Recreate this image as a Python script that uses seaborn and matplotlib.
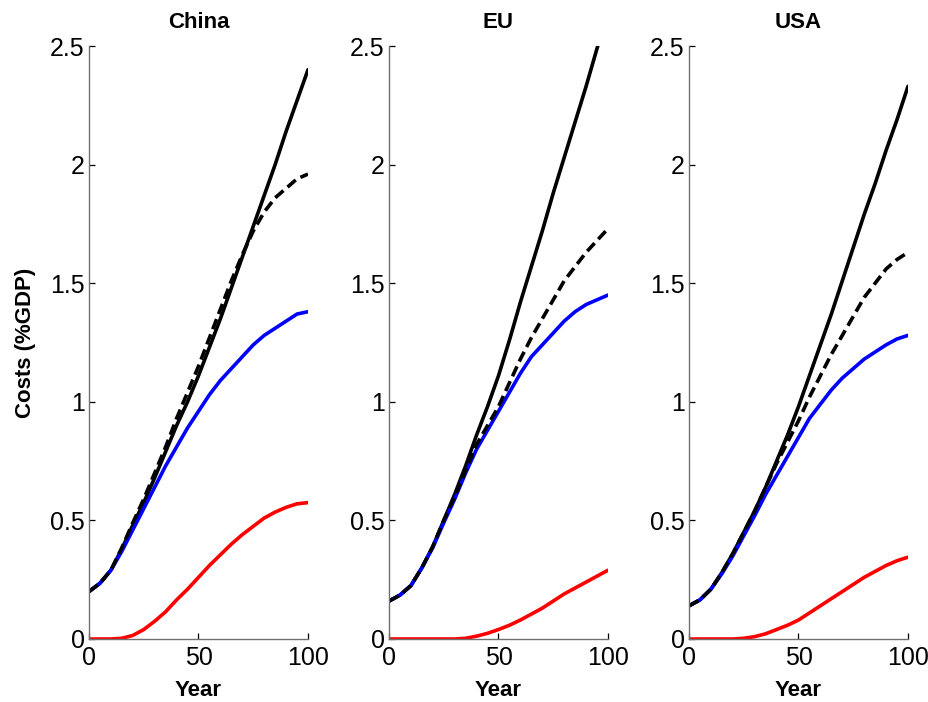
import matplotlib
matplotlib.use("Agg")
import matplotlib.pyplot as plt
import seaborn as sns
import pandas as pd

# ======================================================
# DATA (% of GDP)
# ======================================================

years = [0, 5, 10, 15, 20, 25, 30, 35, 40, 45, 50,
         55, 60, 65, 70, 75, 80, 85, 90, 95, 100]

regions = ["China", "EU", "USA"]

china_solid = [0.20, 0.235, 0.29, 0.38, 0.48, 0.575, 0.68, 0.79, 0.90, 1.00, 1.11,
               1.23, 1.35, 1.48, 1.61, 1.74, 1.87, 2.00, 2.14, 2.27, 2.40]
china_dashed = [0.20, 0.235, 0.29, 0.385, 0.49, 0.59, 0.70, 0.81, 0.93, 1.04, 1.15,
                1.27, 1.39, 1.51, 1.62, 1.72, 1.80, 1.86, 1.90, 1.94, 1.96]
china_blue = [0.20, 0.235, 0.29, 0.37, 0.46, 0.55, 0.64, 0.73, 0.81, 0.89, 0.96,
              1.03, 1.09, 1.14, 1.19, 1.24, 1.28, 1.31, 1.34, 1.37, 1.38]
china_red = [0.0, 0.0, 0.0, 0.003, 0.015, 0.04, 0.075, 0.115, 0.165, 0.21, 0.26,
             0.31, 0.355, 0.40, 0.44, 0.475, 0.51, 0.535, 0.555, 0.57, 0.575]

eu_solid = [0.16, 0.185, 0.225, 0.30, 0.39, 0.50, 0.61, 0.73, 0.86, 0.98, 1.11,
            1.26, 1.42, 1.57, 1.72, 1.88, 2.03, 2.18, 2.33, 2.49, 2.64]
eu_dashed = [0.16, 0.185, 0.225, 0.30, 0.39, 0.50, 0.60, 0.71, 0.82, 0.90, 0.98,
             1.08, 1.18, 1.27, 1.35, 1.43, 1.51, 1.57, 1.63, 1.68, 1.73]
eu_blue = [0.16, 0.185, 0.225, 0.30, 0.385, 0.49, 0.59, 0.70, 0.80, 0.88, 0.96,
           1.04, 1.12, 1.19, 1.24, 1.29, 1.34, 1.38, 1.41, 1.43, 1.45]
eu_red = [0.0, 0.0, 0.0, 0.0, 0.0, 0.0, 0.0, 0.003, 0.012, 0.024, 0.04,
          0.058, 0.08, 0.105, 0.13, 0.16, 0.19, 0.215, 0.24, 0.265, 0.29]

usa_solid = [0.14, 0.165, 0.21, 0.28, 0.36, 0.45, 0.54, 0.64, 0.75, 0.86, 0.98,
             1.11, 1.24, 1.37, 1.51, 1.65, 1.79, 1.92, 2.06, 2.19, 2.33]
usa_dashed = [0.14, 0.165, 0.21, 0.28, 0.36, 0.45, 0.54, 0.64, 0.74, 0.83, 0.92,
              1.02, 1.11, 1.20, 1.28, 1.36, 1.44, 1.50, 1.56, 1.60, 1.63]
usa_blue = [0.14, 0.165, 0.21, 0.275, 0.35, 0.435, 0.52, 0.61, 0.69, 0.77, 0.85,
            0.93, 0.99, 1.05, 1.10, 1.14, 1.18, 1.21, 1.24, 1.265, 1.28]
usa_red = [0.0, 0.0, 0.0, 0.0, 0.0, 0.003, 0.01, 0.022, 0.04, 0.058, 0.08,
           0.11, 0.14, 0.17, 0.20, 0.23, 0.26, 0.285, 0.31, 0.33, 0.345]

series = {
    "China": (china_solid, china_dashed, china_blue, china_red),
    "EU": (eu_solid, eu_dashed, eu_blue, eu_red),
    "USA": (usa_solid, usa_dashed, usa_blue, usa_red),
}

x_ticks = [0, 50, 100]
x_ticklabels = ["0", "50", "100"]
y_ticks = [0, 0.5, 1, 1.5, 2, 2.5]
y_ticklabels = ["0", "0.5", "1", "1.5", "2", "2.5"]

# ======================================================
# STYLE
# ======================================================

sns.set_style("ticks")
plt.rcParams["font.family"] = ["Liberation Sans", "DejaVu Sans"]
plt.rcParams["text.color"] = "black"
plt.rcParams["axes.labelcolor"] = "black"

SPINE = "#707070"
LW = 2.6

fig = plt.figure(figsize=(9.29, 7.02), dpi=100)

lefts = [89 / 929, 389 / 929, 689 / 929]
width = 219 / 929
bottom = 63 / 702
height = 593 / 702

for i, name in enumerate(regions):
    ax = fig.add_axes([lefts[i], bottom, width, height])
    solid, dashed, blue, red = series[name]
    df = pd.DataFrame({"Year": years, "solid": solid, "dashed": dashed,
                       "blue": blue, "red": red})

    sns.lineplot(data=df, x="Year", y="solid", ax=ax, color="black", lw=LW)
    sns.lineplot(data=df, x="Year", y="red", ax=ax, color="#ff0000", lw=LW)
    sns.lineplot(data=df, x="Year", y="blue", ax=ax, color="#0000ff", lw=LW)
    sns.lineplot(data=df, x="Year", y="dashed", ax=ax, color="black", lw=LW,
                 linestyle=(0, (3.0, 1.5)))

    ax.set_xlim(0, 100)
    ax.set_ylim(0, 2.5)
    ax.set_xticks(x_ticks)
    ax.set_xticklabels(x_ticklabels)
    ax.set_yticks(y_ticks)
    ax.set_yticklabels(y_ticklabels)

    sns.despine(ax=ax)
    for s in ["left", "bottom"]:
        ax.spines[s].set_color(SPINE)
        ax.spines[s].set_linewidth(1.0)
    ax.tick_params(direction="in", length=4, width=0.9, color="black",
                   labelsize=18, labelcolor="black")
    ax.tick_params(axis="x", pad=5)
    ax.tick_params(axis="y", pad=3)

    ax.set_title(name, fontsize=16, fontweight="bold", pad=13)
    ax.set_xlabel("Year", fontsize=16, fontweight="bold", labelpad=7)
    if i == 0:
        ax.set_ylabel("Costs (%GDP)", fontsize=16, fontweight="bold", labelpad=10)
    else:
        ax.set_ylabel("")

fig.savefig("out.png", dpi=100)
